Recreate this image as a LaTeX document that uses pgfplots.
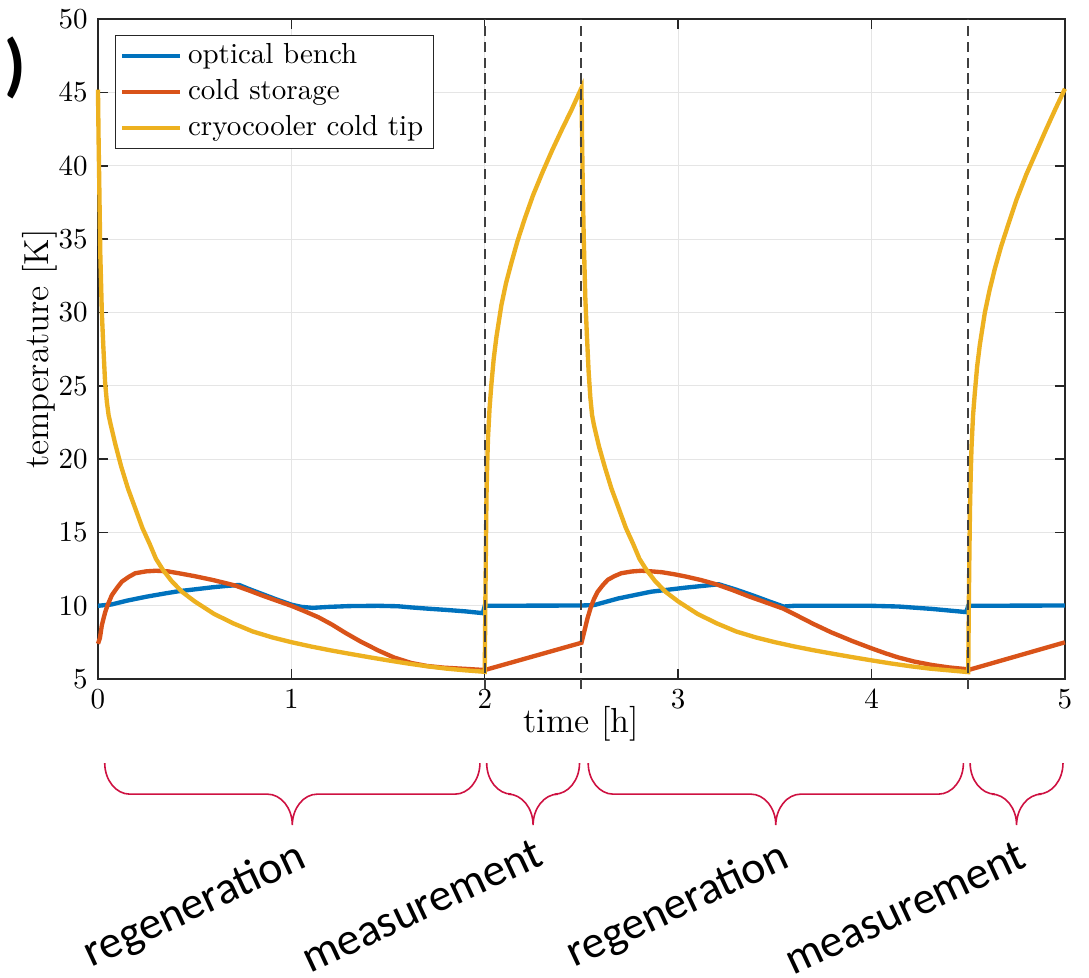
\documentclass[border=0pt]{standalone}
\usepackage{fontspec}
\newfontfamily\calibri{Carlito}
\usepackage{pgfplots}
\pgfplotsset{compat=1.18}
\usetikzlibrary{calc}
\definecolor{mblue}{rgb}{0,0.447,0.741}
\definecolor{morange}{rgb}{0.85,0.325,0.098}
\definecolor{myellow}{rgb}{0.929,0.694,0.125}
\definecolor{bracecol}{RGB}{206,17,65}
\newcommand{\mybrace}[3]{%
  \draw[bracecol, line width=0.55pt] (#1) .. controls +(0,-5.9pt) and +(-4.7pt,0) .. ($(#1)+(8.6pt,-10.7pt)$)
   -- ($(#2)+(-8.6pt,-10.7pt)$) .. controls +(4.7pt,0) and +(0,5.9pt) .. ($(#2)+(0,-21.4pt)$)
   .. controls +(0,5.9pt) and +(-4.7pt,0) .. ($(#2)+(8.6pt,-10.7pt)$)
   -- ($(#3)+(-8.6pt,-10.7pt)$) .. controls +(4.7pt,0) and +(0,-5.9pt) .. (#3);}
\begin{document}
\begin{tikzpicture}
\begin{axis}[
  scale only axis, width=333.6pt, height=227.7pt,
  xmin=0, xmax=5, ymin=5, ymax=50,
  xtick={0,1,2,3,4,5}, ytick={5,10,...,50},
  tick align=inside, tick pos=both,
  major tick length=3.5pt,
  grid=major, major grid style={line width=0.4pt, black!10},
  axis line style={black!85, line width=0.5pt},
  every tick/.style={black!85, line width=0.5pt},
  xlabel={time [h]}, ylabel={temperature [K]},
  xlabel shift=-7.5pt, ylabel shift=-6.5pt,
  label style={font=\large},
  clip=false,
  legend style={at={(0,1)}, xshift=5.9pt, yshift=-5.5pt, anchor=north west,
    draw=black!85, line width=0.4pt, fill=white, inner xsep=1.5pt, inner ysep=0.8pt,
    row sep=0pt, font=\normalsize},
  legend cell align=left,
  legend image code/.code={\draw[#1, line width=1.5pt] (0pt,0pt) -- (20pt,0pt);},
]
\addplot[mblue, line width=1.5pt] coordinates {
(0,10.0) (0.07,10.09) (0.15,10.35) (0.25,10.62) (0.35,10.85) (0.42,11.0) (0.5,11.12)
(0.59,11.26) (0.66,11.35) (0.73,11.42) (0.78,11.15) (0.85,10.8) (0.92,10.45) (1.0,10.08)
(1.05,9.93) (1.11,9.86) (1.2,9.93) (1.3,9.98) (1.45,10.0) (1.55,9.97) (1.62,9.89) (1.7,9.81)
(1.8,9.72) (1.9,9.62) (1.99,9.5) (2.0,10.0) (2.25,10.01) (2.5,10.02)
(2.566,10.05) (2.69,10.5) (2.86,10.96) (3.04,11.24) (3.13,11.36) (3.21,11.47) (3.3,11.1)
(3.39,10.69) (3.47,10.3) (3.545,9.95) (3.6,10.0) (3.8,10.0) (4.0,10.0) (4.14,9.95)
(4.31,9.79) (4.49,9.57) (4.5,10.0) (5,10.02)};
\addlegendentry{optical bench}
\addplot[morange, line width=1.5pt] coordinates {
(0,7.41) (0.01,7.8) (0.02,8.67) (0.03,9.2) (0.038,9.59) (0.05,10.05) (0.072,10.73) (0.1,11.25)
(0.124,11.65) (0.16,11.98) (0.193,12.22) (0.25,12.35) (0.3,12.39) (0.36,12.35) (0.418,12.22)
(0.5,12.02) (0.59,11.77) (0.65,11.58) (0.71,11.38) (0.78,11.05) (0.85,10.7) (0.92,10.37)
(1.0,10.0) (1.07,9.62) (1.14,9.22) (1.21,8.72) (1.28,8.15) (1.36,7.55) (1.45,6.95) (1.53,6.48)
(1.62,6.1) (1.7,5.9) (1.79,5.78) (1.9,5.7) (2.0,5.62) (2.5,7.48)
(2.514,8.21) (2.531,9.13) (2.549,9.93) (2.566,10.5) (2.584,10.96) (2.61,11.4) (2.636,11.77)
(2.67,12.02) (2.706,12.22) (2.76,12.34) (2.811,12.39) (2.87,12.34) (2.916,12.29) (2.98,12.15)
(3.038,12.0) (3.12,11.75) (3.196,11.47) (3.28,11.08) (3.37,10.62) (3.46,10.2) (3.545,9.8)
(3.62,9.3) (3.7,8.76) (3.79,8.2) (3.9,7.6) (4.0,7.1) (4.07,6.77) (4.138,6.48) (4.22,6.2)
(4.31,5.97) (4.4,5.8) (4.49,5.68) (4.5,5.62) (5.0,7.51)};
\addlegendentry{cold storage}
\addplot[myellow, line width=1.5pt] coordinates {
(0,45.2) (0.003,42) (0.007,38.5) (0.012,34) (0.02,30) (0.028,27.6) (0.037,25.2) (0.046,23.9)
(0.055,23.0) (0.065,22.4) (0.09,21) (0.12,19.5) (0.155,18) (0.194,16.6) (0.23,15.3)
(0.268,14.2) (0.3,13.2) (0.336,12.45) (0.38,11.7) (0.435,10.95) (0.5,10.3) (0.6,9.45)
(0.7,8.8) (0.8,8.25) (0.9,7.85) (1.0,7.52) (1.1,7.23) (1.2,6.97) (1.3,6.73) (1.4,6.5)
(1.5,6.28) (1.6,6.07) (1.7,5.88) (1.8,5.72) (1.9,5.6) (2.0,5.5)
(2.003,10) (2.006,14) (2.009,17.5) (2.013,19.8) (2.017,21.5) (2.025,23.5) (2.034,25.05)
(2.046,26.8) (2.06,28.3) (2.086,30.5) (2.11,32.0) (2.138,33.4) (2.17,34.9) (2.207,36.4)
(2.25,38.0) (2.3,39.6) (2.35,41.1) (2.4,42.5) (2.45,43.85) (2.5,45.3)
(2.503,42) (2.507,38.5) (2.512,35) (2.52,31) (2.528,28.5) (2.537,26) (2.546,24.2)
(2.555,23.0) (2.565,22.3) (2.59,20.9) (2.62,19.5) (2.655,18) (2.694,16.6) (2.73,15.3)
(2.768,14.2) (2.8,13.2) (2.836,12.45) (2.88,11.7) (2.935,10.95) (3.0,10.3) (3.1,9.45)
(3.2,8.8) (3.3,8.25) (3.4,7.85) (3.5,7.52) (3.6,7.23) (3.7,6.97) (3.8,6.73) (3.9,6.5)
(4.0,6.28) (4.1,6.07) (4.2,5.88) (4.3,5.72) (4.4,5.6) (4.5,5.48)
(4.503,10) (4.506,13.5) (4.509,16.5) (4.513,19) (4.517,20.8) (4.525,23) (4.534,24.5)
(4.546,26.3) (4.56,27.8) (4.586,30) (4.61,31.5) (4.638,33) (4.67,34.5) (4.707,36)
(4.75,37.7) (4.8,39.4) (4.85,40.9) (4.9,42.4) (4.95,43.85) (5.0,45.25)};
\addlegendentry{cryocooler cold tip}
\addplot[black!75, line width=0.7pt, dash pattern=on 3.5pt off 2pt, forget plot] coordinates {(2,4.3) (2,50)};
\addplot[black!75, line width=0.7pt, dash pattern=on 3.5pt off 2pt, forget plot] coordinates {(2.5,4.3) (2.5,50)};
\addplot[black!75, line width=0.7pt, dash pattern=on 3.5pt off 2pt, forget plot] coordinates {(4.5,4.3) (4.5,50)};
\coordinate (b1s) at (axis cs:0.035,-0.727);
\coordinate (b1m) at (axis cs:1.005,-0.727);
\coordinate (b1e) at (axis cs:1.975,-0.727);
\coordinate (b2s) at (axis cs:2.01,-0.727);
\coordinate (b2m) at (axis cs:2.25,-0.727);
\coordinate (b2e) at (axis cs:2.49,-0.727);
\coordinate (b3s) at (axis cs:2.535,-0.727);
\coordinate (b3m) at (axis cs:3.505,-0.727);
\coordinate (b3e) at (axis cs:4.475,-0.727);
\coordinate (b4s) at (axis cs:4.51,-0.727);
\coordinate (b4m) at (axis cs:4.75,-0.727);
\coordinate (b4e) at (axis cs:4.99,-0.727);
\node[rotate=25, font=\calibri\fontsize{15.8}{19}\selectfont] at (axis cs:0.5016,-10.5) {regeneration};
\node[rotate=25, font=\calibri\fontsize{15.8}{19}\selectfont] at (axis cs:1.675,-10.45) {measurement};
\node[rotate=25, font=\calibri\fontsize{15.8}{19}\selectfont] at (axis cs:2.999,-10.5) {regeneration};
\node[rotate=25, font=\calibri\fontsize{15.8}{19}\selectfont] at (axis cs:4.173,-10.6) {measurement};
\node[font=\calibri\bfseries\fontsize{24}{28}\selectfont] at (axis cs:-0.425,46.65) {)};
\end{axis}
\mybrace{b1s}{b1m}{b1e}
\mybrace{b2s}{b2m}{b2e}
\mybrace{b3s}{b3m}{b3e}
\mybrace{b4s}{b4m}{b4e}
\pgfresetboundingbox
\path ($(current axis.south west)+(-33.8pt,-102.8pt)$) rectangle ($(current axis.south west)+(341.9pt,234.3pt)$);
\end{tikzpicture}
\end{document}
